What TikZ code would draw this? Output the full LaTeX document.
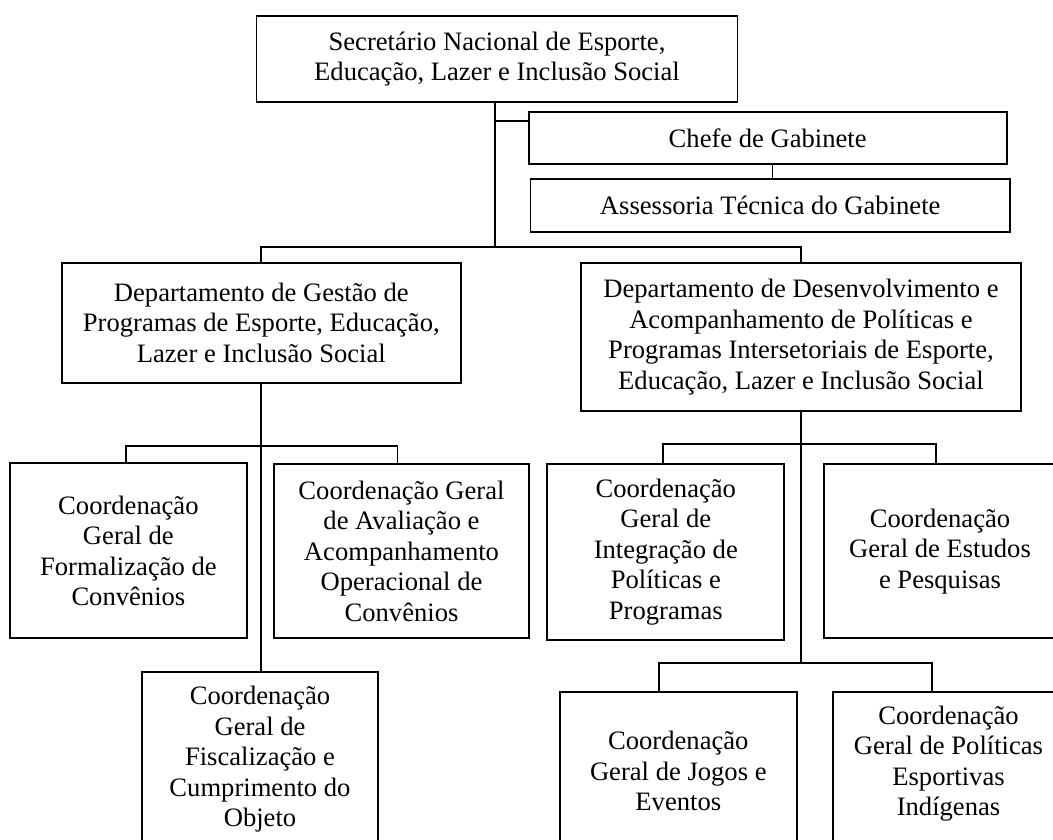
\documentclass[tikz,border=0pt]{standalone}
\usepackage{fontspec}
\setmainfont{Liberation Serif}
\tikzset{
  lbl/.style={inner sep=0pt, align=center, font=\fontsize{26.6}{30.5}\selectfont},
  box/.style={lbl, draw, line width=1.8pt},
  conn/.style={line width=1.8pt}
}
\begin{document}
\begin{tikzpicture}[x=1pt,y=-1pt]
\useasboundingbox (0,0) rectangle (1053,840);
\clip (0,0) rectangle (1053,840);
% boxes
\node[box, minimum width=481pt, minimum height=86pt] (sec) at (497,59) {Secretário Nacional de Esporte,\\Educação, Lazer e Inclusão Social};
\node[box, minimum width=478pt, minimum height=52.6pt] (chefe) at (767.7,138) {Chefe de Gabinete};
\node[box, minimum width=479.6pt, minimum height=52.7pt] (assess) at (770.2,205.4) {Assessoria Técnica do Gabinete};
\node[box, minimum width=399pt, minimum height=120pt] (dgp) at (261.3,322.7) {Departamento de Gestão de\\Programas de Esporte, Educação,\\Lazer e Inclusão Social};
\node[box, minimum width=440pt, minimum height=148pt] (ddap) at (801,337) {Departamento de Desenvolvimento e\\Acompanhamento de Políticas e\\Programas Intersetoriais de Esporte,\\Educação, Lazer e Inclusão Social};
\node[box, minimum width=237.5pt, minimum height=175.3pt] (cgf) at (128.4,550.7) {Coordenação\\Geral de\\Formalização de\\Convênios};
\node[box, minimum width=254.3pt, minimum height=174pt] (cga) at (401.5,551.2) {Coordenação Geral\\de Avaliação e\\Acompanhamento\\Operacional de\\Convênios};
\node[box, minimum width=236pt, minimum height=174pt] (cgfc) at (260,759.3) {Coordenação\\Geral de\\Fiscalização e\\Cumprimento do\\Objeto};
\node[box, minimum width=237pt, minimum height=175.4pt] (cgi) at (665.8,552) {Coordenação\\Geral de\\Integração de\\Políticas e\\Programas};
\node[box, minimum width=232pt, minimum height=174pt] (cge) at (940,551.3) {Coordenação\\Geral de Estudos\\e Pesquisas};
\node[box, minimum width=236.7pt, minimum height=158pt] (cgj) at (678.3,771.3) {Coordenação\\Geral de Jogos e\\Eventos};
\node[box, minimum width=231.6pt, minimum height=158pt] (cgpi) at (948.5,770.7) {};
\node[lbl] (cgpit) at (948.5,763.5) {Coordenação\\Geral de Políticas\\Esportivas\\Indígenas};
% junction coordinates
\coordinate (cj) at (495,120.7);
\coordinate (hbar) at (0,247.3);
\coordinate (ca) at (772.5,0);
\coordinate (b2l) at (125.7,446);
\coordinate (b2r) at (397.5,446);
\coordinate (b3l) at (663.3,444.3);
\coordinate (b3r) at (936,444.3);
\coordinate (b4l) at (659,663.3);
\coordinate (b4r) at (931.7,663.3);
% connectors
\draw[conn] (sec.south -| cj) -- (cj |- hbar);
\draw[conn] (cj) -- (cj -| chefe.west);
\draw[conn] (chefe.south -| ca) -- (assess.north -| ca);
\draw[conn] (dgp.north) -- (dgp.north |- hbar) -| (ddap.north);
\draw[conn] (dgp.south) -- (dgp.south |- cgfc.north);
\draw[conn] (b2l |- cgf.north) -- (b2l) -- (b2r) -- (b2r |- cga.north);
\draw[conn] (ddap.south) -- (ddap.south |- b4l);
\draw[conn] (b3l |- cgi.north) -- (b3l) -- (b3r) -- (b3r |- cge.north);
\draw[conn] (b4l |- cgj.north) -- (b4l) -- (b4r) -- (b4r |- cgpi.north);
\end{tikzpicture}
\end{document}
